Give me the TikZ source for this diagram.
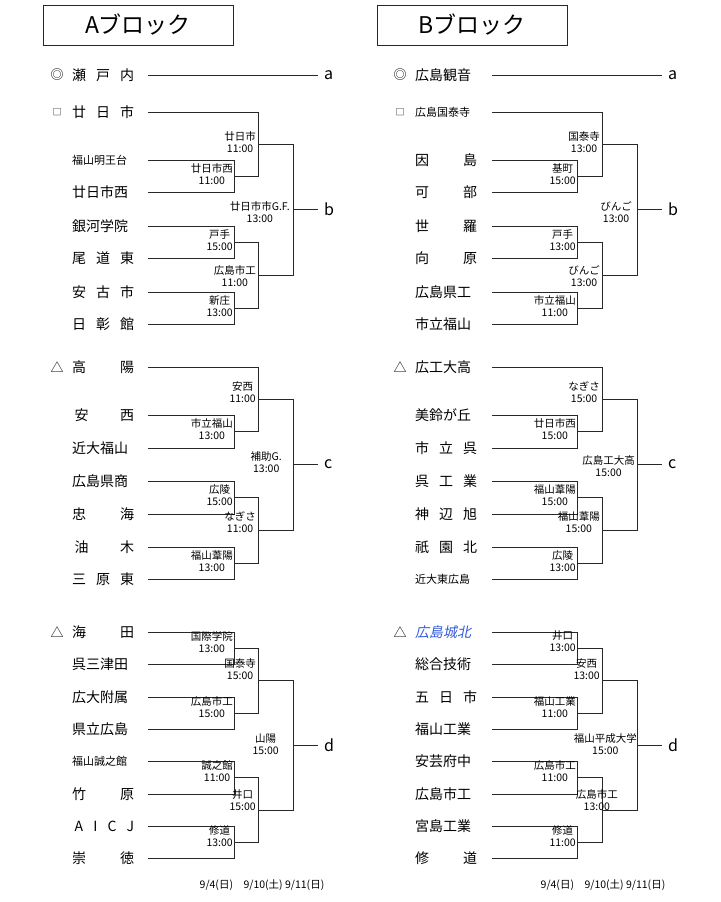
\documentclass[tikz,border=0pt]{standalone}
\usepackage{fontspec}
\setmainfont{Noto Sans CJK JP}
\newfontfamily\itcjk[FakeSlant=0.2]{Noto Sans CJK JP}
\definecolor{lc}{RGB}{40,40,40}
\definecolor{bl}{RGB}{50,90,220}
\newcommand\br[5]{\draw[ln] (#1,#4)--(#3,#4)--(#3,#5)--(#2,#5);}
\newcommand\T[1]{\makebox[62pt][s]{#1}}
\tikzset{
 ln/.style={draw=lc,line width=0.8pt},
 lab/.style={font=\fontsize{10.5}{12}\selectfont,align=center,inner sep=1pt},
 team/.style={font=\fontsize{14}{14}\selectfont,anchor=west,inner sep=0pt},
 small/.style={font=\fontsize{11}{11}\selectfont,anchor=west,inner sep=0pt},
 mk/.style={font=\fontsize{13}{13}\selectfont,inner sep=0pt},
 let/.style={font=\fontsize{16}{16}\selectfont,anchor=west,inner sep=0pt},
 hdr/.style={draw=lc,line width=0.8pt,minimum width=190pt,minimum height=40pt,font=\fontsize{23}{23}\selectfont}
}
\begin{document}
\begin{tikzpicture}[x=1pt,y=-1pt]
\useasboundingbox[fill=white] (0,0) rectangle (720,902);
\node[hdr] (ha) at (138,25) {Aブロック};
\node[hdr] (hb) at (472,25) {Bブロック};
% ---------- A block ----------
\node[mk] (ma1) at (57,75) {◎};
\node[team] (a1) at (72,75) {\T{瀬\hfill 戸\hfill 内}};
\draw[ln] (148,75)--(318,75); \node[let] (la) at (324,75) {a};
% b
\node[font=\fontsize{9}{9}\selectfont] (ma2) at (57,112) {□};
\node[team] (b1) at (72,112) {\T{廿\hfill 日\hfill 市}};
\node[small] (b2) at (72,160) {福山明王台};
\node[team] (b3) at (72,192) {\T{廿日市西}};
\node[team] (b4) at (72,226) {\T{銀河学院}};
\node[team] (b5) at (72,258) {\T{尾\hfill 道\hfill 東}};
\node[team] (b6) at (72,292) {\T{安\hfill 古\hfill 市}};
\node[team] (b7) at (72,324) {\T{日\hfill 彰\hfill 館}};
\br{148}{148}{234}{160}{192}
\br{148}{148}{234}{226}{258}
\br{148}{148}{234}{292}{324}
\br{148}{234}{258}{112}{176}
\br{234}{234}{258}{242}{308}
\br{258}{258}{293}{144}{275}
\draw[ln] (293,209.5)--(318,209.5); \node[let] (lb) at (324,209.5) {b};
\node[lab,anchor=north east] at (234,162) {廿日市西\\11:00};
\node[lab,anchor=north east] at (234,228) {戸手\\15:00};
\node[lab,anchor=north east] at (234,294) {新庄\\13:00};
\node[lab,anchor=east] at (257,142) {廿日市\\11:00};
\node[lab,anchor=east] at (257,276) {広島市工\\11:00};
\node[lab,anchor=east] at (291,212) {廿日市市G.F.\\13:00};
% c
\node[mk] (ma3) at (57,367) {△};
\node[team] (c1) at (72,367) {\T{高\hfill 陽}};
\node[team] (c2) at (72,415) {\T{\,安\hfill 西}};
\node[team] (c3) at (72,448) {\T{近大福山}};
\node[team] (c4) at (72,481) {\T{広島県商}};
\node[team] (c5) at (72,514) {\T{忠\hfill 海}};
\node[team] (c6) at (72,547) {\T{\,油\hfill 木}};
\node[team] (c7) at (72,579) {\T{三\hfill 原\hfill 東}};
\br{148}{148}{234}{415}{448}
\br{148}{148}{234}{481}{514}
\br{148}{148}{234}{547}{579}
\br{148}{234}{258}{367}{431.5}
\br{234}{234}{258}{497.5}{563}
\br{258}{258}{293}{399}{530}
\draw[ln] (293,464.5)--(318,464.5); \node[let] (lc) at (324,464.5) {c};
\node[lab,anchor=north east] at (234,417) {市立福山\\13:00};
\node[lab,anchor=north east] at (234,483) {広陵\\15:00};
\node[lab,anchor=north east] at (234,549) {福山葦陽\\13:00};
\node[lab,anchor=east] at (257,392) {安西\\11:00};
\node[lab,anchor=east] at (257,522) {なぎさ\\11:00};
\node[lab,anchor=east] at (283,462) {補助G.\\13:00};
% d
\node[mk] (ma4) at (57,632) {△};
\node[team] (d1) at (72,632) {\T{海\hfill 田}};
\node[team] (d2) at (72,664) {\T{呉三津田}};
\node[team] (d3) at (72,697) {\T{広大附属}};
\node[team] (d4) at (72,729) {\T{県立広島}};
\node[small] (d5) at (72,761) {福山誠之館};
\node[team] (d6) at (72,794) {\T{竹\hfill 原}};
\node[team] (d7) at (72,826) {\T{\,A\hfill I\hfill C\hfill J}};
\node[team] (d8) at (72,858) {\T{崇\hfill 徳}};
\br{148}{148}{234}{632}{664}
\br{148}{148}{234}{697}{729}
\br{148}{148}{234}{761}{794}
\br{148}{148}{234}{826}{858}
\br{234}{234}{258}{648}{713}
\br{234}{234}{258}{777.5}{842}
\br{258}{258}{293}{680.5}{810}
\draw[ln] (293,745)--(318,745); \node[let] (ld) at (324,745) {d};
\node[lab,anchor=north east] at (234,630) {国際学院\\13:00};
\node[lab,anchor=north east] at (234,695) {広島市工\\15:00};
\node[lab,anchor=north east] at (234,759) {誠之館\\11:00};
\node[lab,anchor=north east] at (234,824) {修道\\13:00};
\node[lab,anchor=east] at (257,669) {国泰寺\\15:00};
\node[lab,anchor=east] at (257,800) {井口\\15:00};
\node[lab,anchor=east] at (280,744) {山陽\\15:00};
\node[lab] (da) at (262,885) {9/4(日)\quad 9/10(土) 9/11(日)};
% ---------- B block ----------
\node[mk] (mb1) at (400,75) {◎};
\node[team] (e1) at (415,75) {\T{広島観音}};
\draw[ln] (492,75)--(662,75); \node[let] (la2) at (668,75) {a};
% b
\node[font=\fontsize{9}{9}\selectfont] (mb2) at (400,112) {□};
\node[small] (f1) at (415,112) {広島国泰寺};
\node[team] (f2) at (415,160) {\T{因\hfill 島}};
\node[team] (f3) at (415,192) {\T{可\hfill 部}};
\node[team] (f4) at (415,226) {\T{世\hfill 羅}};
\node[team] (f5) at (415,258) {\T{向\hfill 原}};
\node[team] (f6) at (415,292) {\T{広島県工}};
\node[team] (f7) at (415,324) {\T{市立福山}};
\br{492}{492}{577}{160}{192}
\br{492}{492}{577}{226}{258}
\br{492}{492}{577}{292}{324}
\br{492}{577}{602}{112}{176}
\br{577}{577}{602}{242}{308}
\br{602}{602}{637}{144}{275}
\draw[ln] (637,209.5)--(662,209.5); \node[let] (lb2) at (668,209.5) {b};
\node[lab,anchor=north east] at (577,162) {基町\\15:00};
\node[lab,anchor=north east] at (577,228) {戸手\\13:00};
\node[lab,anchor=north east] at (577,294) {市立福山\\11:00};
\node[lab,anchor=east] at (601,142) {国泰寺\\13:00};
\node[lab,anchor=east] at (601,276) {びんご\\13:00};
\node[lab,anchor=east] at (633,212) {びんご\\13:00};
% c
\node[mk] (mb3) at (400,367) {△};
\node[team] (g1) at (415,367) {\T{広工大高}};
\node[team] (g2) at (415,415) {\T{美鈴が丘}};
\node[team] (g3) at (415,448) {\T{市\hfill 立\hfill 呉}};
\node[team] (g4) at (415,481) {\T{呉\hfill 工\hfill 業}};
\node[team] (g5) at (415,514) {\T{神\hfill 辺\hfill 旭}};
\node[team] (g6) at (415,547) {\T{祇\hfill 園\hfill 北}};
\node[small] (g7) at (415,579) {近大東広島};
\br{492}{492}{577}{415}{448}
\br{492}{492}{577}{481}{514}
\br{492}{492}{577}{547}{579}
\br{492}{577}{602}{367}{431.5}
\br{577}{577}{602}{497.5}{563}
\br{602}{602}{637}{399}{530}
\draw[ln] (637,464.5)--(662,464.5); \node[let] (lc2) at (668,464.5) {c};
\node[lab,anchor=north east] at (577,417) {廿日市西\\15:00};
\node[lab,anchor=north east] at (577,483) {福山葦陽\\15:00};
\node[lab,anchor=north east] at (577,549) {広陵\\13:00};
\node[lab,anchor=east] at (601,392) {なぎさ\\15:00};
\node[lab,anchor=east] at (601,522) {福山葦陽\\15:00};
\node[lab,anchor=east] at (636,466) {広島工大高\\15:00};
% d
\node[mk] (mb4) at (400,632) {△};
\node[team,text=bl] (h1) at (415,632) {\itcjk 広島城北};
\node[team] (h2) at (415,664) {\T{総合技術}};
\node[team] (h3) at (415,697) {\T{五\hfill 日\hfill 市}};
\node[team] (h4) at (415,729) {\T{福山工業}};
\node[team] (h5) at (415,761) {\T{安芸府中}};
\node[team] (h6) at (415,794) {\T{広島市工}};
\node[team] (h7) at (415,826) {\T{宮島工業}};
\node[team] (h8) at (415,858) {\T{修\hfill 道}};
\br{492}{492}{577}{632}{664}
\br{492}{492}{577}{697}{729}
\br{492}{492}{577}{761}{794}
\br{492}{492}{577}{826}{858}
\br{577}{577}{602}{648}{713}
\br{577}{577}{602}{777.5}{842}
\br{602}{602}{637}{680.5}{810}
\draw[ln] (637,745)--(662,745); \node[let] (ld2) at (668,745) {d};
\node[lab,anchor=north east] at (577,630) {井口\\13:00};
\node[lab,anchor=north east] at (577,695) {福山工業\\11:00};
\node[lab,anchor=north east] at (577,759) {広島市工\\11:00};
\node[lab,anchor=north east] at (577,824) {修道\\11:00};
\node[lab,anchor=east] at (601,669) {安西\\13:00};
\node[lab,anchor=east] at (619,800) {広島市工\\13:00};
\node[lab,anchor=east] at (638,744) {福山平成大学\\15:00};
\node[lab] (db) at (603,885) {9/4(日)\quad 9/10(土) 9/11(日)};
\end{tikzpicture}
\end{document}
